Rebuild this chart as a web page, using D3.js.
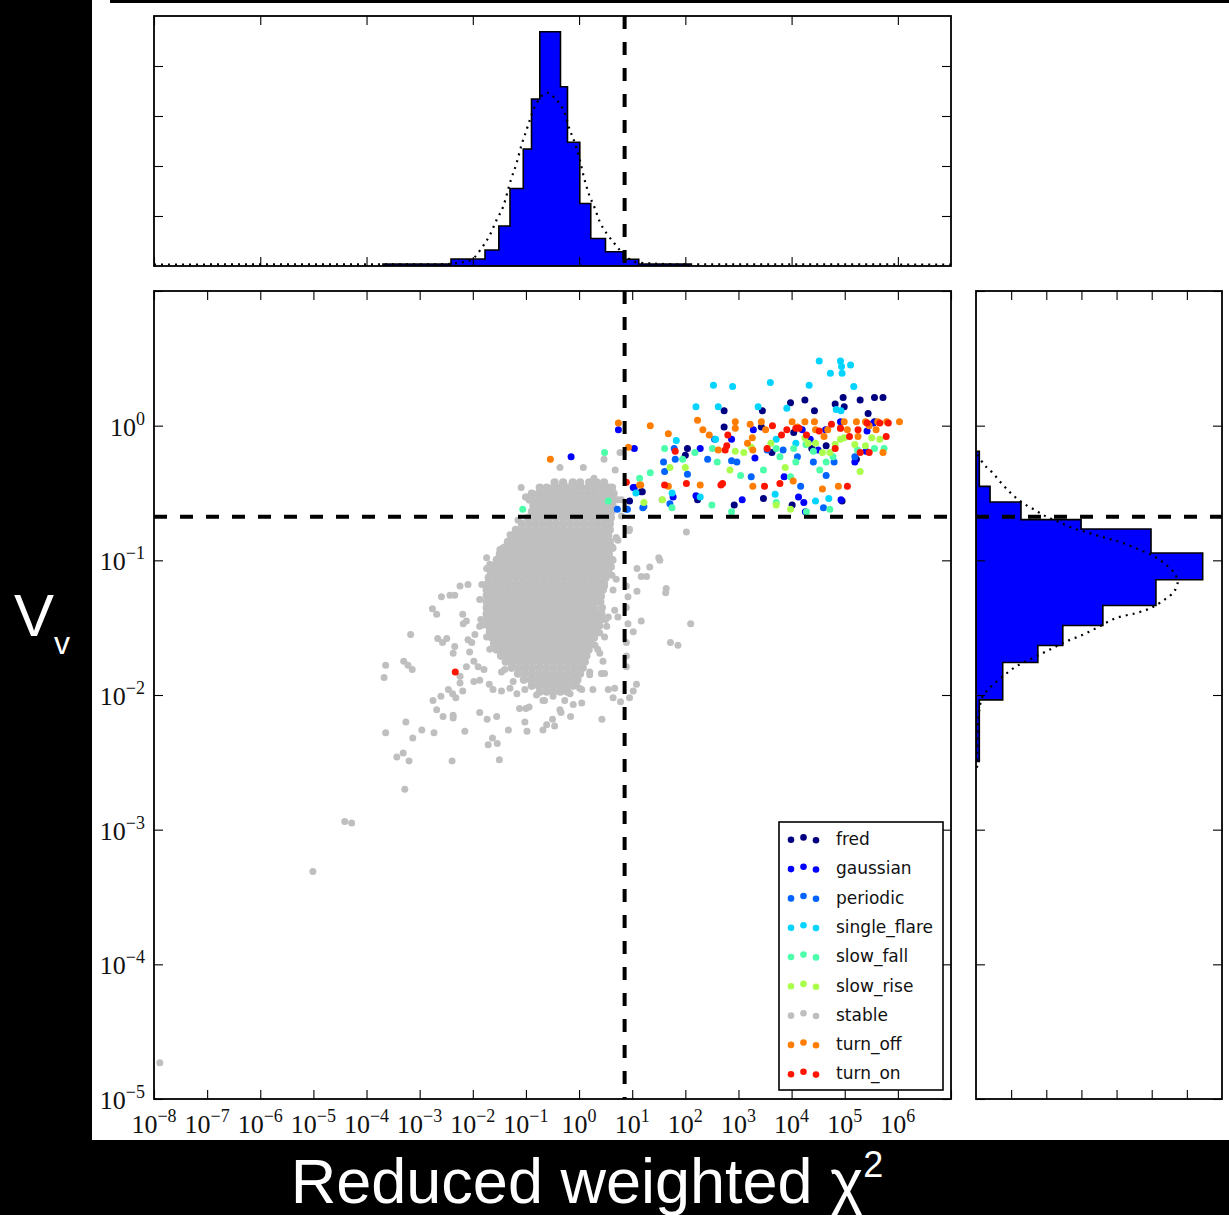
<!DOCTYPE html>
<html><head><meta charset="utf-8">
<script src="https://cdn.jsdelivr.net/npm/d3@7"></script>
<style>body{margin:0;background:#000;overflow:hidden}</style>
</head><body><svg id="c" width="1229" height="1215"></svg>
<script>
// ---------- DATA (values in log10 units) ----------
const classNames = ["fred","gaussian","periodic","single_flare","slow_fall","slow_rise","stable","turn_off","turn_on"];
const classColors = ["#000080","#0000ff","#0063ff","#00d4ff","#4dffaa","#aaff4d","#bfbfbf","#ff7d00","#ff1400"];

const xTickExps = [-8,-7,-6,-5,-4,-3,-2,-1,0,1,2,3,4,5,6];
const yTickExps = [-5,-4,-3,-2,-1,0];
const chi2Cut = 7.2;      // vertical dashed line
const vCut = 0.211;       // horizontal dashed line

// [log10 chi2, log10 Vv]
const fredPts = [[2.73,0.11],[2.73,-0.01],[2.04,-0.17],[2.00,-0.22],[3.45,0.11],[3.43,-0.01],[3.63,-0.20],[3.47,-0.54],[3.98,0.17],[4.25,0.19],[4.43,0.11],[4.01,-0.59],[4.82,0.16],[4.97,0.21],[4.99,0.14],[5.29,0.19],[5.44,0.09],[5.56,0.21],[5.72,0.21],[5.56,0.03],[4.38,-0.17],[5.22,-0.25],[4.95,-0.56],[2.92,-0.59],[1.19,-0.49],[0.95,-0.56],[2.23,-0.55],[1.17,-0.49],[4.65,-0.15],[4.04,-0.05]];
const gaussianPts = [[-0.15,-0.23],[0.74,-0.03],[1.04,-0.17],[1.04,-0.46],[1.77,-0.53],[2.28,-0.17],[2.20,-0.52],[2.87,-0.10],[3.07,-0.55],[3.28,-0.03],[3.31,-0.24],[3.86,-0.38],[4.13,-0.53],[4.20,-0.03],[4.35,-0.10],[4.23,-0.57],[4.26,-0.64],[4.64,-0.03],[4.50,-0.18],[4.93,-0.55],[5.19,-0.27],[4.92,0.03],[5.42,-0.04],[5.54,0.02],[5.40,-0.19],[1.02,-0.46]];
const periodicPts = [[0.72,-0.62],[0.89,-0.62],[1.22,-0.60],[1.59,-0.27],[1.61,-0.34],[1.81,-0.25],[2.04,-0.36],[2.42,-0.25],[2.87,-0.26],[2.97,-0.27],[3.24,-0.38],[3.54,-0.18],[3.84,-0.18],[4.11,-0.23],[4.17,-0.45],[4.41,-0.27],[4.65,-0.37],[4.80,-0.27],[4.60,-0.61],[1.79,-0.17],[2.55,-0.10],[5.19,-0.23],[0.91,-0.62],[1.20,-0.61],[1.71,-0.58]];
const singleFlarePts = [[2.53,0.30],[2.89,0.29],[3.60,0.32],[4.33,0.30],[4.52,0.48],[4.73,0.39],[4.92,0.48],[4.94,0.44],[4.95,0.39],[5.11,0.45],[5.17,0.29],[2.20,0.14],[2.62,0.14],[3.37,0.14],[3.91,0.13],[4.84,0.12],[4.93,0.11],[1.83,-0.11],[2.57,-0.10],[3.71,-0.10],[4.08,-0.13],[1.07,-0.50],[1.75,-0.50],[2.28,-0.53],[3.69,-0.51],[4.45,-0.56],[4.70,-0.54]];
const slowFallPts = [[0.48,-0.20],[-1.06,-0.62],[0.55,-0.56],[1.14,-0.39],[1.61,-0.17],[1.34,-0.35],[1.95,-0.25],[2.18,-0.20],[2.51,-0.17],[2.60,-0.27],[3.04,-0.37],[3.47,-0.33],[3.71,-0.17],[3.98,-0.38],[4.08,-0.27],[4.04,-0.17],[4.27,-0.14],[4.41,-0.19],[4.53,-0.33],[4.78,-0.23],[5.24,-0.18],[5.56,-0.17],[5.74,-0.17],[3.71,-0.57],[1.75,-0.61],[2.50,-0.59],[2.87,-0.64],[4.28,-0.64],[4.72,-0.62],[4.65,-0.27],[3.78,-0.23]];
const slowRisePts = [[1.22,-0.57],[1.71,-0.31],[2.00,-0.31],[2.84,-0.33],[2.94,-0.19],[3.10,-0.20],[3.24,-0.16],[3.61,-0.13],[3.71,-0.59],[3.88,-0.31],[3.98,-0.62],[4.25,-0.09],[4.31,-0.13],[4.72,-0.20],[4.92,-0.10],[4.99,-0.09],[5.29,-0.34],[5.39,-0.15],[5.51,-0.09],[5.66,-0.10],[4.82,-0.14],[4.58,-0.20],[1.57,-0.55],[5.19,-0.14],[4.45,-0.13]];
const turnOffPts = [[0.74,0.02],[-0.54,-0.25],[1.34,0.00],[0.93,-0.16],[1.68,-0.06],[2.23,0.04],[1.16,-0.44],[1.68,-0.45],[2.28,-0.44],[2.45,-0.07],[2.94,0.03],[2.94,-0.02],[3.22,0.01],[3.43,0.03],[3.51,-0.03],[3.26,-0.09],[3.27,-0.18],[3.27,-0.45],[4.01,0.03],[4.25,0.03],[4.43,0.03],[4.61,-0.08],[4.68,-0.03],[4.92,-0.02],[5.22,0.03],[5.39,0.03],[5.59,-0.03],[5.72,-0.20],[5.79,0.03],[6.03,0.03],[4.88,-0.45],[4.58,-0.47],[4.03,-0.41],[2.62,-0.18],[5.25,-0.08],[5.46,0.00],[5.62,0.03],[4.99,0.03],[1.14,-0.44],[4.11,-0.01],[4.45,-0.03],[5.05,-0.03],[3.17,-0.13],[2.33,-0.03]];
const turnOnPts = [[0.89,-0.42],[1.61,-0.44],[1.81,-0.19],[2.02,-0.43],[2.67,-0.44],[2.70,-0.43],[2.80,-0.07],[2.78,-0.15],[2.75,-0.18],[3.49,-0.45],[3.64,0.00],[3.81,-0.07],[3.54,-0.17],[3.78,-0.43],[4.08,-0.02],[4.14,-0.02],[4.28,-0.07],[4.75,0.01],[4.92,-0.02],[5.05,-0.45],[5.09,-0.08],[5.29,-0.20],[5.42,0.02],[5.66,0.02],[5.78,-0.08],[5.82,0.02],[5.46,-0.20],[4.82,-0.17],[-2.33,-1.83],[4.52,-0.04],[3.91,-0.03],[5.25,-0.03]];

// stable: dense core, one row per log10 Vv with its log10 chi2 values
const stableCoreRows = [
 [-0.42,[-0.46,-0.30,-0.12,0.02,0.19,0.33,0.47]],
 [-0.46,[-0.74,-0.61,-0.48,-0.35,-0.22,-0.09,0.04,0.17,0.30,0.43,0.56,0.62]],
 [-0.505,[-0.89,-0.76,-0.63,-0.50,-0.37,-0.24,-0.11,0.02,0.15,0.28,0.41,0.54,0.65]],
 [-0.55,[-0.93,-0.80,-0.67,-0.54,-0.41,-0.28,-0.15,-0.02,0.11,0.24,0.37,0.50,0.63]],
 [-0.594,[-0.86,-0.73,-0.60,-0.47,-0.34,-0.21,-0.08,0.05,0.18,0.31,0.44,0.57,0.63]],
 [-0.639,[-0.89,-0.76,-0.63,-0.50,-0.37,-0.24,-0.11,0.02,0.15,0.28,0.41,0.54,0.61]],
 [-0.684,[-0.96,-0.83,-0.70,-0.57,-0.44,-0.31,-0.18,-0.05,0.08,0.21,0.34,0.47,0.60]],
 [-0.728,[-1.08,-0.95,-0.82,-0.69,-0.56,-0.43,-0.30,-0.17,-0.04,0.09,0.22,0.35,0.48,0.58]],
 [-0.773,[-1.19,-1.06,-0.93,-0.80,-0.67,-0.54,-0.41,-0.28,-0.15,-0.02,0.11,0.24,0.37,0.50,0.58]],
 [-0.817,[-1.27,-1.14,-1.01,-0.88,-0.75,-0.62,-0.49,-0.36,-0.23,-0.10,0.03,0.16,0.29,0.42,0.55]],
 [-0.862,[-1.34,-1.21,-1.08,-0.95,-0.82,-0.69,-0.56,-0.43,-0.30,-0.17,-0.04,0.09,0.22,0.35,0.48,0.58]],
 [-0.906,[-1.40,-1.27,-1.14,-1.01,-0.88,-0.75,-0.62,-0.49,-0.36,-0.23,-0.10,0.03,0.16,0.29,0.42,0.55,0.62]],
 [-0.951,[-1.49,-1.36,-1.23,-1.10,-0.97,-0.84,-0.71,-0.58,-0.45,-0.32,-0.19,-0.06,0.07,0.20,0.33,0.46,0.56]],
 [-0.996,[-1.55,-1.42,-1.29,-1.16,-1.03,-0.90,-0.77,-0.64,-0.51,-0.38,-0.25,-0.12,0.01,0.14,0.27,0.40,0.53,0.62]],
 [-1.040,[-1.60,-1.47,-1.34,-1.21,-1.08,-0.95,-0.82,-0.69,-0.56,-0.43,-0.30,-0.17,-0.04,0.09,0.22,0.35,0.48,0.58]],
 [-1.085,[-1.66,-1.53,-1.40,-1.27,-1.14,-1.01,-0.88,-0.75,-0.62,-0.49,-0.36,-0.23,-0.10,0.03,0.16,0.29,0.42,0.55]],
 [-1.129,[-1.70,-1.57,-1.44,-1.31,-1.18,-1.05,-0.92,-0.79,-0.66,-0.53,-0.40,-0.27,-0.14,-0.01,0.12,0.25,0.38,0.50]],
 [-1.174,[-1.72,-1.59,-1.46,-1.33,-1.20,-1.07,-0.94,-0.81,-0.68,-0.55,-0.42,-0.29,-0.16,-0.03,0.10,0.23,0.36,0.47]],
 [-1.218,[-1.74,-1.61,-1.48,-1.35,-1.22,-1.09,-0.96,-0.83,-0.70,-0.57,-0.44,-0.31,-0.18,-0.05,0.08,0.21,0.34,0.45]],
 [-1.263,[-1.74,-1.67,-1.54,-1.41,-1.28,-1.15,-1.02,-0.89,-0.76,-0.63,-0.50,-0.37,-0.24,-0.11,0.02,0.15,0.28,0.41]],
 [-1.308,[-1.74,-1.61,-1.48,-1.35,-1.22,-1.09,-0.96,-0.83,-0.70,-0.57,-0.44,-0.31,-0.18,-0.05,0.08,0.21,0.31,0.40]],
 [-1.352,[-1.74,-1.67,-1.54,-1.41,-1.28,-1.15,-1.02,-0.89,-0.76,-0.63,-0.50,-0.37,-0.24,-0.11,0.02,0.15,0.28,0.43]],
 [-1.397,[-1.74,-1.61,-1.48,-1.35,-1.22,-1.09,-0.96,-0.83,-0.70,-0.57,-0.44,-0.31,-0.18,-0.05,0.08,0.21,0.33,0.42]],
 [-1.441,[-1.72,-1.65,-1.52,-1.39,-1.26,-1.13,-1.00,-0.87,-0.74,-0.61,-0.48,-0.35,-0.22,-0.09,0.04,0.17,0.30,0.40]],
 [-1.486,[-1.70,-1.57,-1.44,-1.31,-1.18,-1.05,-0.92,-0.79,-0.66,-0.53,-0.40,-0.27,-0.14,-0.01,0.12,0.25,0.38]],
 [-1.530,[-1.68,-1.61,-1.48,-1.35,-1.22,-1.09,-0.96,-0.83,-0.70,-0.57,-0.44,-0.31,-0.18,-0.05,0.08,0.21,0.33]],
 [-1.575,[-1.64,-1.51,-1.38,-1.25,-1.12,-0.99,-0.86,-0.73,-0.60,-0.47,-0.34,-0.21,-0.08,0.05,0.18,0.28]],
 [-1.620,[-1.60,-1.47,-1.34,-1.21,-1.08,-0.95,-0.82,-0.69,-0.56,-0.43,-0.30,-0.17,-0.04,0.09,0.22]],
 [-1.664,[-1.55,-1.42,-1.29,-1.16,-1.03,-0.90,-0.77,-0.64,-0.51,-0.38,-0.25,-0.12,0.01,0.14,0.18]],
 [-1.709,[-1.47,-1.34,-1.21,-1.08,-0.95,-0.82,-0.69,-0.56,-0.43,-0.30,-0.17,-0.04,0.09,0.14]],
 [-1.753,[-1.38,-1.25,-1.12,-0.99,-0.86,-0.73,-0.60,-0.47,-0.34,-0.21,-0.08,0.05,0.11]],
 [-1.798,[-1.27,-1.14,-1.01,-0.88,-0.75,-0.62,-0.49,-0.36,-0.23,-0.10,0.03,0.07]],
 [-1.842,[-1.15,-1.02,-0.89,-0.76,-0.63,-0.50,-0.37,-0.24,-0.11,0.02]],
 [-1.887,[-1.04,-0.91,-0.78,-0.65,-0.52,-0.39,-0.26,-0.13,-0.03]],
 [-1.932,[-0.89,-0.76,-0.63,-0.50,-0.37,-0.24,-0.11]],
 [-1.976,[-0.74,-0.61,-0.48,-0.35,-0.22]]
];
const stableOutliers = [[-3.17,-1.55],[-3.64,-1.78],[-3.67,-1.87],[-3.30,-1.75],[-3.22,-1.78],[-3.14,-1.81],[-3.64,-2.28],[-3.26,-2.20],[-3.43,-2.46],[-3.31,-2.43],[-3.20,-2.49],[-3.13,-2.32],[-2.96,-2.26],[-2.73,-2.28],[-2.39,-2.49],[-2.15,-2.27],[-2.75,-2.04],[-2.60,-2.01],[-2.68,-2.11],[-2.56,-2.16],[-2.37,-2.15],[-2.37,-2.17],[-2.46,-1.96],[-2.38,-1.99],[-2.32,-2.02],[-2.24,-1.91],[-2.19,-1.97],[-1.87,-2.13],[-1.73,-2.18],[-1.55,-2.16],[-1.71,-2.37],[-1.63,-2.32],[-1.54,-2.36],[-1.50,-2.48],[-1.33,-2.26],[-1.12,-2.10],[-1.00,-2.10],[-0.94,-2.09],[-1.02,-2.20],[-0.98,-2.27],[-0.68,-2.26],[-0.61,-2.22],[-0.46,-2.23],[-0.34,-2.13],[-0.16,-2.16],[0.43,-2.18],[0.64,-2.02],[0.78,-2.05],[0.95,-2.02],[1.02,-1.97],[1.08,-1.92],[0.67,-1.95],[0.55,-1.96],[0.42,-1.84],[0.48,-1.84],[0.89,-1.79],[0.89,-1.61],[1.02,-1.53],[0.92,-1.47],[1.17,-1.45],[2.10,-1.47],[1.72,-1.61],[1.86,-1.63],[1.09,-1.23],[0.92,-1.27],[0.89,-1.19],[1.09,-1.06],[1.33,-1.05],[1.17,-1.12],[1.27,-1.12],[1.50,-0.98],[1.52,-1.00],[1.64,-1.21],[1.63,-1.24],[0.94,-0.78],[2.02,-0.79],[0.70,-0.83],[0.64,-0.91],[0.61,-1.00],[0.70,-1.14],[0.64,-1.22],[0.67,-1.37],[0.73,-1.42],[0.52,-1.49],[0.48,-1.57],[0.89,-1.35],[0.89,-1.71],[-1.74,-0.98],[-1.74,-1.06],[-1.62,-1.12],[-1.52,-1.02],[-1.46,-0.92],[-2.24,-1.19],[-2.09,-1.18],[-2.43,-1.26],[-2.59,-1.27],[-2.34,-1.26],[-2.76,-1.36],[-2.68,-1.40],[-2.19,-1.40],[-2.12,-1.45],[-2.18,-1.47],[-2.66,-1.58],[-2.49,-1.58],[-2.57,-1.61],[-2.34,-1.64],[-2.37,-1.69],[-2.09,-1.59],[-2.02,-1.61],[-2.06,-1.68],[-1.98,-1.75],[-2.12,-1.79],[-2.24,-1.86],[-1.90,-1.79],[-1.79,-1.81],[-1.98,-1.90],[-1.87,-1.89],[-1.69,-1.92],[-1.62,-1.96],[-1.46,-1.97],[-1.30,-1.95],[-1.17,-1.99],[-1.24,-1.90],[-1.46,-1.83],[-1.74,-1.57],[-1.81,-1.48],[-1.74,-1.42],[-1.87,-1.49],[-1.96,-1.55],[-0.80,-2.00],[-0.68,-2.04],[-0.49,-2.01],[-0.30,-1.94],[-0.17,-1.99],[-0.05,-1.91],[0.01,-1.95],[0.20,-1.83],[0.26,-1.96],[0.05,-2.06],[-0.11,-2.07],[-0.36,-2.11],[-0.50,-2.18],[0.45,-1.75],[0.39,-1.69],[0.30,-1.63],[0.39,-1.54],[0.55,-1.42],[0.42,-1.27],[0.48,-1.19],[0.61,-1.05],[0.48,-0.87],[0.39,-0.77],[0.80,-0.67],[0.64,-1.00],[-0.99,-0.53],[-1.15,-0.70],[-1.30,-0.86],[-1.44,-0.91],[0.73,-0.55],[0.95,-0.77],[-1.09,-0.46],[-1.01,-0.53],[-0.36,-0.31],[0.08,-0.31],[0.47,-0.25],[0.77,-0.20],[0.68,-0.33],[0.55,-0.50],[-0.09,-0.44],[0.28,-0.39],[-0.26,-0.49],[-0.73,-0.56],[1.56,-0.55],[-5.01,-3.31],[-4.41,-2.94],[-4.28,-2.95],[-3.28,-2.70],[-7.89,-4.73],
 [-1.30,-0.81],[-1.49,-0.92],[-1.68,-1.03],[-1.83,-1.18],[-1.87,-1.29],[-1.85,-1.44],[-1.68,-1.66],[-1.40,-1.81],[-1.02,-1.96],[-0.65,-2.04],[-0.27,-2.04],[0.80,-0.55],[0.73,-0.85],[0.62,-1.11],[0.50,-1.44],[0.35,-1.66],[0.20,-1.85],[0.05,-1.96]];

// top histogram (log10 chi2 bin edges, counts) and its dotted fit
const topBinEdges = [-3.69,-2.41,-1.77,-1.51,-1.30,-1.05,-0.895,-0.739,-0.35,-0.218,0.014,0.22,0.497,0.828,1.123,2.083];
const topCounts = [0.8,2.8,6.4,16,31,46.8,66.8,93.7,71.7,49.5,25,11,5.7,2.7,0.8];
const topFitX = [-8,-2.62,-2.15,-1.975,-1.836,-1.679,-1.553,-1.429,-1.284,-1.177,-1.083,-0.989,-0.927,-0.833,-0.739,-0.583,-0.457,-0.35,-0.269,-0.175,-0.112,0.014,0.089,0.17,0.296,0.39,0.516,0.64,0.766,0.922,1.142,1.895,7];
const topFitCounts = [0.6,0.7,1.6,3.3,7.1,12.4,18.4,23.7,34.4,41.1,48.4,54.4,58.4,63.7,67.1,69.3,67.1,64.4,61.1,54.4,51.1,42.4,35.7,29.7,23.1,17.7,13.1,9.7,6.4,3.1,1.3,0.7,0.6];
const topCountTicks = [20,40,60,80];

// right histogram (log10 Vv bin edges, counts) and its dotted fit
const rightBinEdges = [-0.191,-0.451,-0.567,-0.698,-0.767,-0.946,-1.144,-1.335,-1.484,-1.632,-1.759,-2.036,-2.494];
const rightCounts = [0.94,4.0,12.8,29.9,49.8,64.5,51.2,36.1,24.7,17.6,7.6,0.94];
const rightFitY = [-0.215,-0.29,-0.351,-0.438,-0.513,-0.574,-0.624,-0.674,-0.711,-0.76,-0.797,-0.834,-0.871,-0.921,-0.971,-1.033,-1.094,-1.157,-1.231,-1.293,-1.354,-1.392,-1.429,-1.491,-1.553,-1.603,-1.664,-1.726,-1.788,-1.863,-1.937,-2.011,-2.11,-2.259,-2.578];
const rightFitCounts = [0.48,2.36,4.75,7.6,10.4,13.3,16.6,19.9,23.2,27.5,32.2,37.0,41.7,46.5,50.7,54.1,56.4,57.4,56.4,53.6,49.8,45.5,39.8,35.1,30.4,25.6,20.9,16.1,11.4,7.6,4.3,1.9,0.94,0.48,0.28];
const rightCountTicks = [10,20,30,40,50,60];

// ---------- DRAWING ----------
const pow = v => Math.pow(10, v);
const svg = d3.select("#c");
svg.append("rect").attr("width",1229).attr("height",1215).attr("fill","#000");
svg.append("rect").attr("x",92).attr("y",0).attr("width",1137).attr("height",1140).attr("fill","#fff");
svg.append("rect").attr("x",110).attr("y",0).attr("width",1119).attr("height",3).attr("fill","#000");

const P = {l:154, r:951, t:291, b:1099};
const T = {t:16, b:266};
const R = {l:976, r:1222};

const x = d3.scaleLog().domain([1e-8,1e7]).range([P.l,P.r]);
const y = d3.scaleLog().domain([1e-5,1e1]).range([P.b,P.t]);
const yTop = d3.scaleLinear().domain([0,100]).range([T.b,T.t]);
const xRight = d3.scaleLinear().domain([0,70]).range([R.l,R.r]);

const defs = svg.append("defs");
defs.append("clipPath").attr("id","clipMain").append("rect").attr("x",P.l).attr("y",P.t).attr("width",P.r-P.l).attr("height",P.b-P.t);
defs.append("clipPath").attr("id","clipTop").append("rect").attr("x",P.l).attr("y",T.t).attr("width",P.r-P.l).attr("height",T.b-T.t);
defs.append("clipPath").attr("id","clipRight").append("rect").attr("x",R.l).attr("y",P.t).attr("width",R.r-R.l).attr("height",P.b-P.t);

// scatter
const stableCore = [];
stableCoreRows.forEach(r => r[1].forEach(lx => stableCore.push([lx, r[0]])));
const seriesByClass = {fred:fredPts, gaussian:gaussianPts, periodic:periodicPts, single_flare:singleFlarePts, slow_fall:slowFallPts, slow_rise:slowRisePts, turn_off:turnOffPts, turn_on:turnOnPts};
const gPts = svg.append("g").attr("clip-path","url(#clipMain)");
const stableColor = classColors[classNames.indexOf("stable")];
gPts.append("g").selectAll("circle").data(stableCore).join("circle")
  .attr("cx", d => x(pow(d[0]))).attr("cy", d => y(pow(d[1]))).attr("r",4.1).attr("fill",stableColor);
gPts.append("g").selectAll("circle").data(stableOutliers).join("circle")
  .attr("cx", d => x(pow(d[0]))).attr("cy", d => y(pow(d[1]))).attr("r",3.5).attr("fill",stableColor);
["fred","gaussian","periodic","single_flare","slow_fall","slow_rise","turn_off","turn_on"].forEach(name => {
  const col = classColors[classNames.indexOf(name)];
  gPts.append("g").selectAll("circle").data(seriesByClass[name]).join("circle")
    .attr("cx", d => x(pow(d[0]))).attr("cy", d => y(pow(d[1]))).attr("r",3.5).attr("fill",col);
});

// top histogram
const gTop = svg.append("g").attr("clip-path","url(#clipTop)");
let tp = `M${x(pow(topBinEdges[0]))},${yTop(0)}`;
topCounts.forEach((c,i) => { tp += `L${x(pow(topBinEdges[i]))},${yTop(c)}L${x(pow(topBinEdges[i+1]))},${yTop(c)}`; });
tp += `L${x(pow(topBinEdges[topBinEdges.length-1]))},${yTop(0)}Z`;
gTop.append("path").attr("d",tp).attr("fill","#0000ff").attr("stroke","#000").attr("stroke-width",1.6);
gTop.append("path").datum(topFitX.map((v,i)=>[v,topFitCounts[i]]))
  .attr("d", d3.line().x(d=>x(pow(d[0]))).y(d=>yTop(d[1])).curve(d3.curveMonotoneX))
  .attr("fill","none").attr("stroke","#000").attr("stroke-width",2.2).attr("stroke-dasharray","2,5");

// right histogram
const gRight = svg.append("g").attr("clip-path","url(#clipRight)");
let rp = `M${xRight(0)},${y(pow(rightBinEdges[0]))}`;
rightCounts.forEach((c,i) => { rp += `L${xRight(c)},${y(pow(rightBinEdges[i]))}L${xRight(c)},${y(pow(rightBinEdges[i+1]))}`; });
rp += `L${xRight(0)},${y(pow(rightBinEdges[rightBinEdges.length-1]))}Z`;
gRight.append("path").attr("d",rp).attr("fill","#0000ff").attr("stroke","#000").attr("stroke-width",1.6);
gRight.append("path").datum(rightFitY.map((v,i)=>[rightFitCounts[i],v]))
  .attr("d", d3.line().x(d=>xRight(d[0])).y(d=>y(pow(d[1]))).curve(d3.curveCatmullRom))
  .attr("fill","none").attr("stroke","#000").attr("stroke-width",2.2).attr("stroke-dasharray","2,5");

// dashed threshold lines
const dashStyle = s => s.attr("stroke","#000").attr("stroke-width",4).attr("stroke-dasharray","13,13").attr("fill","none");
svg.append("line").attr("x1",x(chi2Cut)).attr("x2",x(chi2Cut)).attr("y1",T.t).attr("y2",T.b).call(dashStyle);
svg.append("line").attr("x1",x(chi2Cut)).attr("x2",x(chi2Cut)).attr("y1",P.t).attr("y2",P.b).call(dashStyle);
svg.append("line").attr("x1",P.l).attr("x2",P.r).attr("y1",y(vCut)).attr("y2",y(vCut)).call(dashStyle);
svg.append("line").attr("x1",R.l).attr("x2",R.r).attr("y1",y(vCut)).attr("y2",y(vCut)).call(dashStyle);

// inward ticks via d3 axes
function ticks(axis, tx, ty) {
  const g = svg.append("g").attr("transform",`translate(${tx},${ty})`).call(axis.tickSize(-9).tickFormat(""));
  g.select(".domain").remove();
  g.selectAll(".tick line").attr("stroke","#000").attr("stroke-width",1.1);
}
const decadesX = d3.range(-8,8).map(pow);
const decadesY = d3.range(-5,2).map(pow);
const evenX = [-8,-6,-4,-2,0,2,4,6].map(pow);
ticks(d3.axisBottom(x).tickValues(decadesX), 0, P.b);
ticks(d3.axisTop(x).tickValues(decadesX), 0, P.t);
ticks(d3.axisLeft(y).tickValues(decadesY), P.l, 0);
ticks(d3.axisRight(y).tickValues(decadesY), P.r, 0);
ticks(d3.axisBottom(x).tickValues(evenX), 0, T.b);
ticks(d3.axisTop(x).tickValues(evenX), 0, T.t);
ticks(d3.axisLeft(yTop).tickValues(topCountTicks), P.l, 0);
ticks(d3.axisRight(yTop).tickValues(topCountTicks), P.r, 0);
ticks(d3.axisBottom(xRight).tickValues(rightCountTicks), 0, P.b);
ticks(d3.axisTop(xRight).tickValues(rightCountTicks), 0, P.t);
ticks(d3.axisLeft(y).tickValues(decadesY), R.l, 0);
ticks(d3.axisRight(y).tickValues(decadesY), R.r, 0);

// frames
[[P.l,T.t,P.r,T.b],[P.l,P.t,P.r,P.b],[R.l,P.t,R.r,P.b]].forEach(f => {
  svg.append("rect").attr("x",f[0]).attr("y",f[1]).attr("width",f[2]-f[0]).attr("height",f[3]-f[1])
    .attr("fill","none").attr("stroke","#000").attr("stroke-width",1.8);
});

// tick labels
const lblFont = "'Liberation Serif', 'DejaVu Serif', serif";
const expText = e => (e < 0 ? "\u2212" + (-e) : String(e));
xTickExps.forEach(e => {
  const t = svg.append("text").attr("x", x(pow(e))).attr("y", P.b + 34).attr("text-anchor","middle")
    .attr("font-family",lblFont).attr("font-size",26).attr("fill","#111");
  t.append("tspan").text("10");
  t.append("tspan").attr("dy",-11).attr("font-size",18).text(expText(e));
});
yTickExps.forEach(e => {
  const t = svg.append("text").attr("x", P.l - 9).attr("y", y(pow(e)) + 10).attr("text-anchor","end")
    .attr("font-family",lblFont).attr("font-size",26).attr("fill","#111");
  t.append("tspan").text("10");
  t.append("tspan").attr("dy",-11).attr("font-size",18).text(expText(e));
});

// legend
const L = {x:779, y:822, w:164, h:268};
const gL = svg.append("g");
gL.append("rect").attr("x",L.x).attr("y",L.y).attr("width",L.w).attr("height",L.h).attr("fill","#fff").attr("stroke","#000").attr("stroke-width",1.6);
const dotDX = [12, 24.5, 37], dotDY = [0.8, -1.6, 1.2];
classNames.forEach((name,i) => {
  const cy = 839 + i*29.3;
  dotDX.forEach((dx,k) => gL.append("circle").attr("cx",L.x+dx).attr("cy",cy+dotDY[k]).attr("r",3.3).attr("fill",classColors[i]));
  gL.append("text").attr("x",836).attr("y",cy+6).attr("font-family","'DejaVu Sans', sans-serif").attr("font-size",17).attr("fill","#111").text(name);
});

// axis titles (white on black)
const tx = svg.append("text").attr("x",587).attr("y",1203).attr("text-anchor","middle")
  .attr("font-family","'Liberation Sans', Arial, sans-serif").attr("font-size",63).attr("fill","#fff");
tx.append("tspan").text("Reduced weighted \u03c7");
tx.append("tspan").attr("dy",-26).attr("font-size",36).text("2");
const ty = svg.append("text").attr("x",14).attr("y",636)
  .attr("font-family","'Liberation Sans', Arial, sans-serif").attr("font-size",60).attr("fill","#fff");
ty.append("tspan").text("V");
ty.append("tspan").attr("dy",18).attr("font-size",32).text("v");
</script></body></html>
